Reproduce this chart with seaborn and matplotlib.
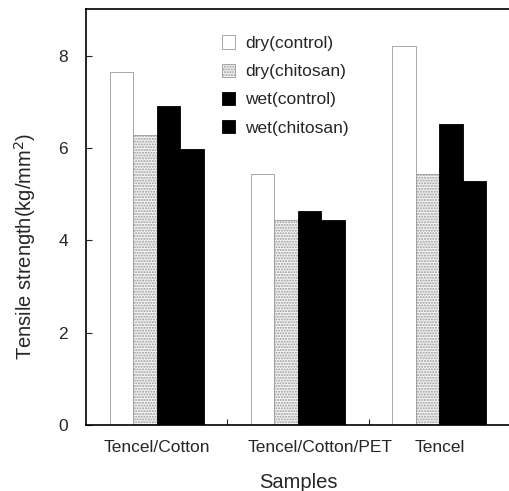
import matplotlib
matplotlib.use("Agg")
import matplotlib.pyplot as plt
from matplotlib.patches import Patch
import seaborn as sns
import pandas as pd

samples = ["Tencel/Cotton", "Tencel/Cotton/PET", "Tencel"]
conditions = ["dry(control)", "dry(chitosan)", "wet(control)", "wet(chitosan)"]
dry_control = [7.64, 5.44, 8.20]
dry_chitosan = [6.28, 4.44, 5.43]
wet_control = [6.91, 4.63, 6.52]
wet_chitosan = [5.97, 4.44, 5.28]

series = [dry_control, dry_chitosan, wet_control, wet_chitosan]
rows = []
for cond, vals in zip(conditions, series):
    for s, v in zip(samples, vals):
        rows.append({"Samples": s, "cond": cond, "value": v})
df = pd.DataFrame(rows)

sns.set_style("ticks")
plt.rcParams["font.family"] = ["Liberation Sans", "DejaVu Sans"]

styles = [
    dict(facecolor="white", edgecolor="#999999", hatch=None),
    dict(facecolor="#f4f4f4", edgecolor="#9a9a9a", hatch="......"),
    dict(facecolor="black", edgecolor="black", hatch=None),
    dict(facecolor="black", edgecolor="black", hatch=None),
]

fig = plt.figure(figsize=(5.10, 4.91), dpi=100)
ax = fig.add_axes([0.1686, 0.1344, 0.8314, 0.8466])

sns.barplot(data=df, x="Samples", y="value", hue="cond", order=samples,
            hue_order=conditions, width=0.665, ax=ax, legend=False,
            saturation=1, errorbar=None)

n = len(samples)
for i, p in enumerate(ax.patches):
    st = styles[i // n]
    p.set_facecolor(st["facecolor"])
    p.set_edgecolor(st["edgecolor"])
    p.set_linewidth(0.6)
    if st["hatch"]:
        p.set_hatch(st["hatch"])

ax.set_xlim(-0.5, 2.5)
ax.set_ylim(0, 9)
ax.set_yticks([0, 2, 4, 6, 8])
ax.tick_params(axis="y", direction="in", length=4, labelsize=12.5, pad=13)
ax.set_xticks([0.5, 1.5])
ax.set_xticklabels([])
ax.tick_params(axis="x", direction="in", length=4)
for xpos, lab in zip([0.0, 1.16, 2.0], samples):
    ax.text(xpos, -0.035, lab, transform=ax.get_xaxis_transform(),
            ha="center", va="top", fontsize=12.5)

for sp in ax.spines.values():
    sp.set_linewidth(1.2)
    sp.set_color("black")

ax.set_xlabel("Samples", fontsize=14.5, labelpad=31)
ax.set_ylabel("Tensile strength(kg/mm$^2$)", fontsize=14.5)
ax.yaxis.set_label_coords(-0.113, 0.43)

handles = [Patch(facecolor=st["facecolor"], edgecolor=st["edgecolor"],
                 hatch=st["hatch"], linewidth=0.6) for st in styles]
ax.legend(handles, conditions, loc="upper left", bbox_to_anchor=(0.285, 0.975),
          frameon=False, fontsize=12.5, handlelength=0.75, handleheight=0.8,
          handletextpad=0.55, labelspacing=0.72)

fig.savefig("out.png", dpi=100)
